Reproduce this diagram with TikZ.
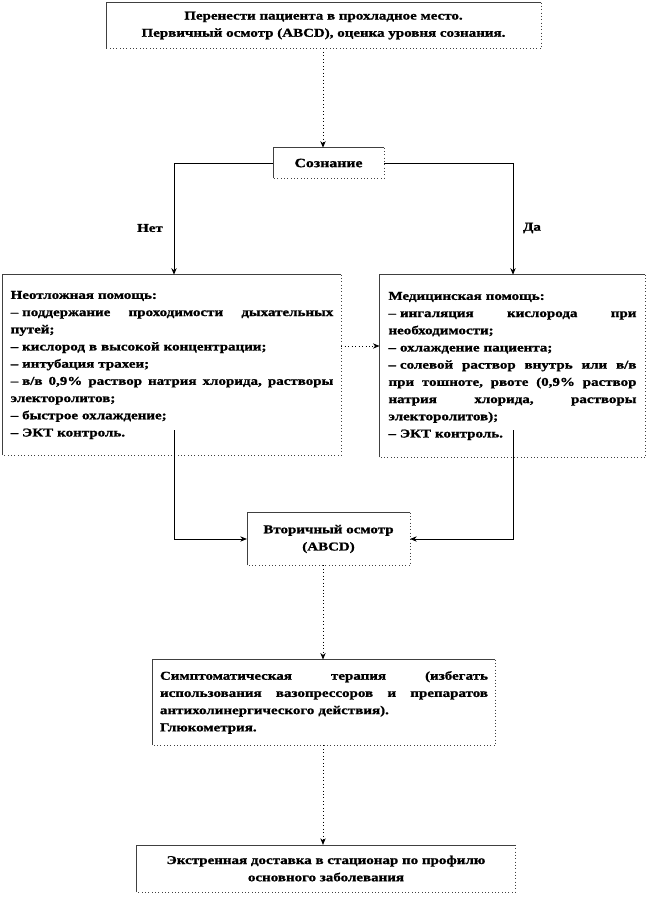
\documentclass[tikz,border=0pt]{standalone}
\usepackage{fontspec}
\setmainfont{Liberation Serif}[FakeStretch=1.25,BoldFeatures={FakeBold=1.2}]
\usetikzlibrary{arrows.meta}
\newcommand\jl[2]{\leavevmode\hbox to #1{#2}\\}
\newcommand\myframe[1]{%
  \draw[frameline] (#1.south west) -- (#1.north west) -- (#1.north east);
  \draw[frameline,dotted] (#1.north east) -- (#1.south east) -- (#1.south west);}
\begin{document}
\begin{tikzpicture}[x=0.75pt,y=-0.75pt,
  box/.style={inner sep=0pt,font=\fontsize{9}{12.9}\selectfont\bfseries},
  txt/.style={box,align=left},
  frameline/.style={draw=black!75,line width=0.5pt},
  conn/.style={line width=0.6pt,-{Stealth[length=5pt,width=4pt]}},
  dconn/.style={conn,dotted},
  lbl/.style={font=\fontsize{9}{11}\selectfont\bfseries}]
\useasboundingbox (0,0) rectangle (647,897);

\node[box,align=center,minimum width=326pt,minimum height=34pt] (b1) at (323.5,25.5)
  {Перенести пациента в прохладное место.\\Первичный осмотр (ABCD), оценка уровня сознания.};
\node[box,minimum width=83pt,minimum height=22.5pt,font=\fontsize{9.5}{12}\selectfont\bfseries] (soz) at (328.5,163) {Сознание};
\node[txt,minimum width=253.5pt,minimum height=135pt,text width=242pt] (left) at (172,365)
  {Неотложная помощь:\\
   \jl{242pt}{– поддержание\hfill проходимости\hfill дыхательных}
   путей;\\
   – кислород в высокой концентрации;\\
   – интубация трахеи;\\
   \jl{242pt}{– в/в\hfill 0,9\%\hfill раствор\hfill натрия\hfill хлорида,\hfill растворы}
   электоролитов;\\
   – быстрое охлаждение;\\
   – ЭКТ контроль.};
\node[txt,minimum width=199pt,minimum height=136.5pt,text width=186pt] (right) at (512.5,366)
  {Медицинская помощь:\\
   \jl{186pt}{– ингаляция\hfill кислорода\hfill при}
   необходимости;\\
   – охлаждение пациента;\\
   \jl{186pt}{– солевой\hfill раствор\hfill внутрь\hfill или\hfill в/в}
   \jl{186pt}{при\hfill тошноте,\hfill рвоте\hfill (0,9\%\hfill раствор}
   \jl{186pt}{натрия\hfill хлорида,\hfill растворы}
   электоролитов);\\
   – ЭКТ контроль.};
\node[box,align=center,minimum width=122pt,minimum height=39pt] (sec) at (328.5,539)
  {Вторичный осмотр\\(ABCD)};
\node[txt,minimum width=256.5pt,minimum height=64pt,text width=246pt] (sym) at (324,702.5)
  {\jl{246pt}{Симптоматическая\hfill терапия\hfill (избегать}
   \jl{246pt}{использования\hfill вазопрессоров\hfill и\hfill препаратов}
   антихолинергического действия).\\
   Глюкометрия.};
\node[box,align=center,minimum width=283.5pt,minimum height=35pt] (last) at (326,868.5)
  {Экстренная доставка в стационар по профилю\\основного заболевания};

\foreach \n in {b1,soz,left,right,sec,sym,last}{\myframe{\n}}

\node[lbl] (no) at (150,228) {Нет};
\node[lbl] (yes) at (532,228) {Да};

\coordinate (c1) at (323,0);
\coordinate (ym) at (0,346);
\coordinate (ls) at (174,430);
\coordinate (rs) at (513,430);

\draw[dconn] (b1.south -| c1) -- (soz.north -| c1);
\draw[conn] (soz.west) -| (left.north -| ls);
\draw[conn] (soz.east) -| (right.north -| rs);
\draw[dconn] (left.east |- ym) -- (right.west |- ym);
\draw[conn] (ls) |- (sec.west);
\draw[conn] (rs) |- (sec.east);
\draw[dconn] (sec.south -| c1) -- (sym.north -| c1);
\draw[dconn] (sym.south -| c1) -- (last.north -| c1);
\end{tikzpicture}
\end{document}
